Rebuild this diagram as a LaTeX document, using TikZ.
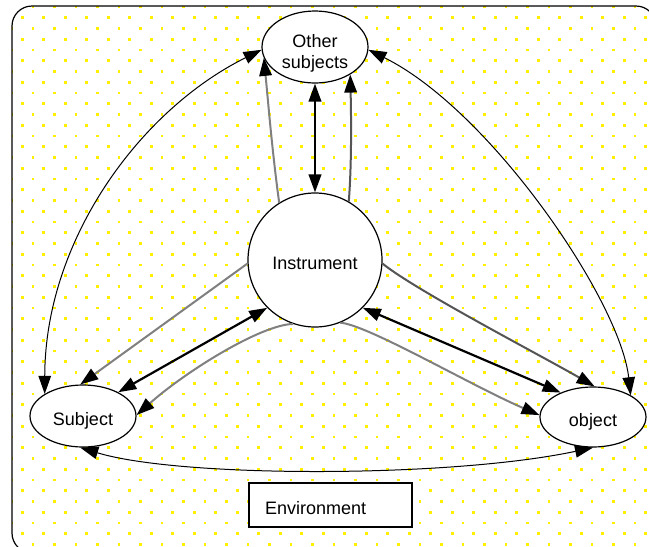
\documentclass[tikz,border=0pt]{standalone}
\usepackage{fontspec}
\setmainfont{Liberation Sans}
\usetikzlibrary{shapes.geometric,arrows.meta}
\definecolor{dotc}{RGB}{255,240,0}
\definecolor{lgray}{RGB}{128,128,128}
\definecolor{dgray}{RGB}{85,85,85}
\newcommand\lowtxt[2]{\raisebox{-#1}[\height][\depth]{#2}}
\begin{document}
\begin{tikzpicture}[x=1pt,y=-1pt,
  >={Triangle[length=18pt,width=12.5pt,color=black]},
  txt/.style={font=\fontsize{18}{22}\selectfont},
  ent/.style={ellipse, draw, fill=white, line width=1.2pt, inner sep=0pt, txt, align=center},
  link/.style={line width=1pt},
  strong/.style={line width=2.2pt},
  lg/.style={line width=2pt, draw=lgray},
  dg/.style={line width=2pt, draw=dgray}]
\useasboundingbox (0,0) rectangle (649,547);
\clip (0,0) rectangle (649,547);
\begin{scope}
  \clip[rounded corners=20pt] (12,6) rectangle (656,553);
  \fill[white] (0,0) rectangle (660,560);
  \foreach \j in {0,...,50}{\foreach \i in {0,...,30}{
    \fill[dotc] ({10.1+21.5*\i+10.75*mod(\j,2)},{5.6+10.75*\j}) rectangle +(2.8,2.8);}}
\end{scope}
\draw[line width=1.2pt, rounded corners=20pt] (12,6) rectangle (656,553);

\node[ent, minimum width=106pt, minimum height=72pt] (os) at (315,47) {\lowtxt{7pt}{\begin{tabular}{@{}c@{}}Other\\[-1pt]subjects\end{tabular}}};
\node[circle, draw, fill=white, line width=1.2pt, minimum size=134pt, inner sep=0pt, txt] (inst) at (315,260) {\lowtxt{3pt}{Instrument}};
\node[ent, minimum width=106pt, minimum height=62pt] (subj) at (83,416) {\lowtxt{5pt}{Subject}};
\node[ent, minimum width=106pt, minimum height=60pt] (obj) at (593,417) {\lowtxt{5pt}{object}};
\node[draw, fill=white, line width=1.2pt, minimum width=163pt, minimum height=44pt, text width=131pt, inner xsep=16pt, align=left, txt] (env) at (330.5,505) {\lowtxt{3pt}{Environment}};

\draw[strong,<->] (os.270) -- (inst.90);
\draw[lg,->] (inst.122) .. controls (272,150) and (268,100) .. (os.192);
\draw[dg,->] (inst.60) .. controls (352,160) and (351,110) .. (os.322);
\draw[link,<->] (os.183) .. controls (140,110) and (45,240) .. (subj.150);
\draw[link,<->] (os.357) .. controls (490,110) and (620,300) .. (obj.30);
\draw[link,<->] (subj.265) .. controls (180,478) and (450,478) .. (obj.270);
\draw[lg,->] (inst.183) -- (subj.95);
\draw[strong,<->] (inst.225) -- (subj.34);
\draw[lg,->] (inst.251) .. controls (260,325) and (185,372) .. (subj.1);
\draw[dg,->] (inst.357) .. controls (415,290) and (540,355) .. (obj.87);
\draw[strong,<->] (inst.315) -- (obj.143);
\draw[lg,->] (inst.292) .. controls (368,325) and (470,385) .. (obj.178);
\end{tikzpicture}
\end{document}
